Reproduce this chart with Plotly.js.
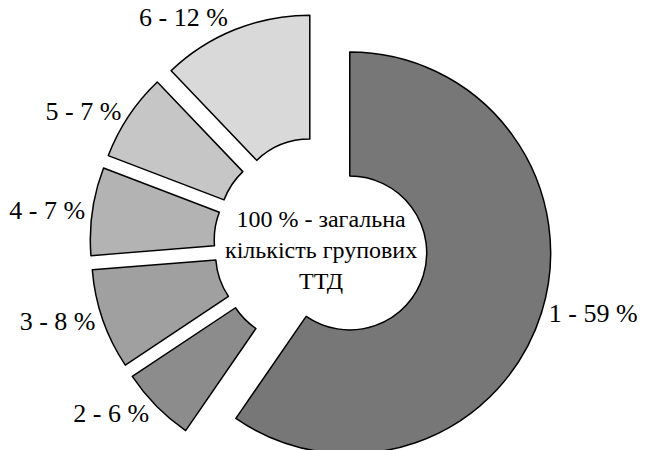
<!DOCTYPE html>
<html>
<head>
<meta charset="utf-8">
<script src="https://cdn.plot.ly/plotly-3.0.1.min.js"></script>
<style>
html,body{margin:0;padding:0;overflow:hidden;background:#fff;}
#chart{width:658px;height:500px;}
</style>
</head>
<body>
<div id="chart"></div>
<script>
const groups = ['1', '2', '3', '4', '5', '6'];
const percents = [59, 6, 8, 7, 7, 12];
const sliceColors = ['#777777', '#8c8c8c', '#a0a0a0', '#b3b3b3', '#c6c6c6', '#d9d9d9'];
const centerLines = ['100 % - загальна', 'кількість групових', 'ТТД'];

const labelText = groups.map((g, i) => g + ' - ' + percents[i] + ' %');
const serif = 'Nimbus Roman, Tinos, Times, DejaVu Serif';

const trace = {
  type: 'pie',
  labels: groups,
  values: percents,
  text: labelText,
  textinfo: 'text',
  textposition: 'outside',
  hole: 0.383,
  pull: 0.15,
  sort: false,
  direction: 'clockwise',
  rotation: 0,
  marker: {colors: sliceColors, line: {color: '#000000', width: 1.5}},
  textfont: {family: serif, size: 26, color: '#000000'},
  outsidetextfont: {family: serif, size: 26, color: '#000000'},
  showlegend: false,
  hoverinfo: 'none'
};

const layout = {
  width: 658,
  height: 500,
  margin: {l: 90, r: 106, t: 13, b: 25},
  paper_bgcolor: '#ffffff',
  plot_bgcolor: '#ffffff',
  showlegend: false,
  font: {family: serif, size: 26, color: '#000000'},
  annotations: [{
    xref: 'paper', yref: 'paper', x: 0.5, y: 0.487,
    text: centerLines.join('<br>'),
    showarrow: false,
    font: {family: serif, size: 24, color: '#000000'},
    align: 'center'
  }]
};

Plotly.newPlot('chart', [trace], layout, {staticPlot: true});
</script>
</body>
</html>
